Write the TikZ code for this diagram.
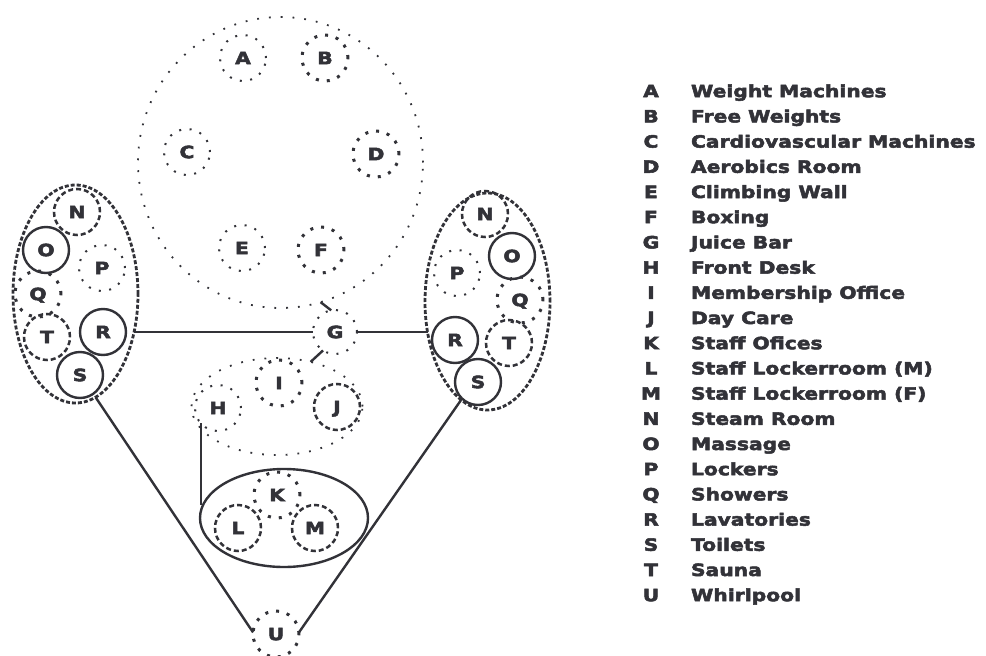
\documentclass[tikz,border=0pt]{standalone}
\usepackage{fontspec}
\newfontfamily\lgfont[FakeStretch=1.2,FakeBold=3]{DejaVu Sans Bold}
\usetikzlibrary{shapes.geometric}
\definecolor{ink}{RGB}{50,50,56}
\begin{document}
\begin{tikzpicture}[x=1pt,y=-1pt,
  every node/.style={font=\lgfont\fontsize{16.9}{20}\selectfont, text=ink, inner sep=0pt, outer sep=0pt},
  room/.style={circle, minimum size=46pt, draw=ink, text height=12.3pt, text depth=0pt},
  solidroom/.style={room, line width=2.4pt},
  dashroom/.style={room, line width=2.5pt, dash pattern=on 5pt off 3pt},
  dotroom/.style={room, line width=2pt, dash pattern=on 2pt off 8.5pt},
  bigdotroom/.style={room, line width=3pt, dash pattern=on 3pt off 8pt},
  zone/.style={ellipse, draw=ink, inner sep=0pt},
  dotzone/.style={zone, line width=1.8pt, dash pattern=on 1.8pt off 10pt},
  dashzone/.style={zone, line width=2.8pt, dash pattern=on 4pt off 2pt},
  solidzone/.style={zone, line width=2.4pt},
  conn/.style={draw=ink, line width=2.4pt},
  keyletter/.style={anchor=base},
  keyname/.style={anchor=base west}
]
\useasboundingbox[fill=white] (0,0) rectangle (986,656);

% top zone
\node[dotzone, minimum width=285pt, minimum height=291pt] (gym) at (280.5,162.5) {};
\node[dotroom] (A) at (243,58) {A};
\node[bigdotroom] (B) at (325,58) {B};
\node[dotroom] (C) at (187,152) {C};
\node[bigdotroom] (D) at (376,154) {D};
\node[dotroom] (E) at (242,248) {E};
\node[bigdotroom] (F) at (321,250) {F};

% juice bar
\node[dotroom, minimum size=44pt] (G) at (335,332) {G};

% front zone
\node[dotzone, minimum width=171pt, minimum height=97pt] (hij) at (277,406.5) {};
\node[dotroom] (H) at (218,408) {H};
\node[bigdotroom] (I) at (279,383) {I};
\node[dashroom] (J) at (337,407) {J};

% staff zone
\node[solidzone, minimum width=168pt, minimum height=98pt] (klm) at (284,518) {};
\node[bigdotroom] (K) at (277,495) {K};
\node[dashroom] (L) at (238,528) {L};
\node[dashroom] (M) at (315,528) {M};

% whirlpool
\node[bigdotroom] (U) at (276,634) {U};

% left locker cluster
\node[dashzone, minimum width=125pt, minimum height=218pt] (lc) at (75.5,294) {};
\node[dashroom] (lN) at (77,212) {N};
\node[solidroom] (lO) at (46,250) {O};
\node[dotroom] (lP) at (102,268) {P};
\node[bigdotroom] (lQ) at (38,294) {Q};
\node[dashroom] (lT) at (47,337) {T};
\node[solidroom] (lR) at (103,332) {R};
\node[solidroom] (lS) at (80,375) {S};

% right locker cluster
\node[dashzone, minimum width=125pt, minimum height=217pt] (rc) at (487.5,301.5) {};
\node[dashroom] (rN) at (485,214) {N};
\node[solidroom] (rO) at (512,256) {O};
\node[dotroom] (rP) at (457,273) {P};
\node[bigdotroom] (rQ) at (520,300) {Q};
\node[solidroom] (rR) at (455,340) {R};
\node[dashroom] (rT) at (509,343) {T};
\node[solidroom] (rS) at (478,382) {S};

% connectors
\draw[conn] (lc.-33 |- G.west) -- (G.west);
\draw[conn] (G.east) -- (rc.207 |- G.east);
\draw[conn] (gym.-74.3) -- (G.100);
\draw[conn] (G.237) -- (hij.53.6);
\draw[conn] (H.222) -- (H.222 |- klm.171);
\draw[conn] (lc.-79.4) -- (U.176);
\draw[conn] (rc.255) -- (U.4);

% legend
\foreach \L/\T [count=\i from 0] in {A/Weight Machines, B/Free Weights, C/Cardiovascular Machines, D/Aerobics Room, E/Climbing Wall, F/Boxing, G/Juice Bar, H/Front Desk, I/Membership Office, J/Day Care, K/Staff Ofices, L/Staff Lockerroom (M), M/Staff Lockerroom (F), N/Steam Room, O/Massage, P/Lockers, Q/Showers, R/Lavatories, S/Toilets, T/Sauna, U/Whirlpool} {
  \node[keyletter] (key\L) at (651, 97.2+25.2*\i) {\L};
  \node[keyname] (name\L) at (691, 97.2+25.2*\i) {\T};
}
\end{tikzpicture}
\end{document}
